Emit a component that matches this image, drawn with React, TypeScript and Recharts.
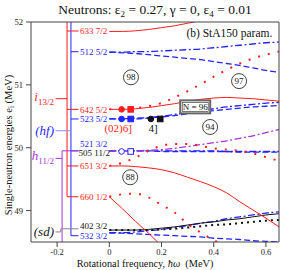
'use client';

import React from 'react';
import { ComposedChart, Line, Scatter, XAxis, YAxis } from 'recharts';

const FONT = '"Liberation Serif", "Times New Roman", serif';
const RED = '#ff1c1c';
const BLUE = '#2424ff';
const PURPLE = '#a435d8';
const BLACK = '#111111';
const AXIS = '#444444';

// rotational frequency grid (MeV)
const omega = [0, 0.05, 0.1, 0.15, 0.2, 0.25, 0.3, 0.35, 0.4, 0.45, 0.5, 0.55, 0.6, 0.65];

// single-neutron routhians e_i (MeV) on the omega grid (null = leaves the frame)
const r633a = [51.85, 51.85, 51.86, 51.88, 51.91, 51.94, 51.98, 52.02, null, null, null, null, null, null];
const r512a = [51.52, 51.52, 51.53, 51.53, 51.54, 51.55, 51.56, 51.57, 51.59, 51.61, 51.63, 51.65, 51.67, 51.68];
const r512b = [51.52, 51.51, 51.5, 51.48, 51.46, 51.44, 51.42, 51.4, 51.37, 51.34, 51.31, 51.27, 51.23, 51.2];
const r642a = [50.61, 50.61, 50.62, 50.64, 50.67, 50.7, 50.74, 50.77, 50.79, 50.8, 50.79, 50.78, 50.76, 50.74];
const r642b = [50.61, 50.62, 50.63, 50.66, 50.71, 50.8, 50.9, 51.01, 51.13, 51.24, 51.34, 51.42, 51.48, 51.53];
const r523a = [50.46, 50.46, 50.47, 50.48, 50.5, 50.53, 50.56, 50.59, 50.62, 50.65, 50.67, 50.69, 50.71, 50.72];
const r523b = [50.46, 50.46, 50.46, 50.47, 50.49, 50.51, 50.54, 50.57, 50.59, 50.61, 50.63, 50.65, 50.66, 50.67];
const r521a = [49.95, 49.95, 49.95, 49.95, 49.95, 49.95, 49.95, 49.95, 49.95, 49.94, 49.94, 49.94, 49.94, 49.94];
const r521b = [49.95, 49.95, 49.95, 49.95, 49.94, 49.94, 49.94, 49.94, 49.94, 49.94, 49.93, 49.93, 49.93, 49.93];
const r505 = [49.95, 49.95, 49.95, 49.96, 49.97, 49.99, 50.02, 50.05, 50.08, 50.11, 50.15, 50.19, 50.24, 50.29];
const r651a = [49.71, 49.71, 49.7, 49.68, 49.65, 49.6, 49.53, 49.46, 49.38, 49.28, 49.14, 49.01, 48.88, 48.74];
const r651b = [49.71, 49.76, 49.84, 49.95, 50.03, 50.06, 50.06, 50.03, 49.99, 49.97, 49.95, 49.91, 49.85, 49.79];
const r660a = [49.22, 49.03, 48.83, 48.64, 48.44, null, null, null, null, null, null, null, null, null];
const r660b = [49.22, 49.26, 49.27, 49.21, 49.09, 48.97, 48.79, 48.65, 48.53, 48.42, null, null, null, null];
const r402a = [48.69, 48.69, 48.69, 48.7, 48.72, 48.74, 48.77, 48.8, 48.82, 48.85, 48.87, 48.9, 48.93, 48.95];
const r402b = [48.69, 48.69, 48.69, 48.69, 48.7, 48.71, 48.73, 48.75, 48.77, 48.78, 48.8, 48.82, 48.84, 48.85];
const r532a = [48.65, 48.65, 48.66, 48.68, 48.7, 48.73, 48.76, 48.8, 48.83, 48.87, 48.9, 48.93, 48.96, 48.98];
const r532b = [48.64, 48.64, 48.63, 48.62, 48.61, 48.6, 48.59, 48.58, 48.56, 48.55, 48.54, 48.52, 48.51, 48.5];

// Nilsson labels at omega = 0
const levelNames = ['633 7/2', '512 5/2', '642 5/2', '523 5/2', '521 3/2', '505 11/2', '651 3/2', '660 1/2', '402 3/2', '532 3/2'];
const levelE = [51.857, 51.527, 50.61, 50.457, 49.95, 49.95, 49.71, 49.22, 48.71, 48.6];
const labelE = [51.857, 51.527, 50.61, 50.457, 50.06, 49.92, 49.71, 49.22, 48.76, 48.6];
const levelShell = ['i', 'hf', 'i', 'hf', 'hf', 'h', 'i', 'i', 'sd', 'hf'];

// shell groups of the level scheme
const shellNames = ['i13/2', '(hf)', 'h11/2', '(sd)'];
const shellKeys = ['i', 'hf', 'h', 'sd'];
const shellE = [50.78, 50.27, 49.83, 48.66];
const shellTop = [52, 52, 49.95, 48.71];
const shellBottom = [49.22, 48.6, 48.5, 48.66];

// experimental band markers
const markW = [0.047, 0.082, 0.047, 0.082, 0.159, 0.195, 0.047, 0.082];
const markE = [50.61, 50.61, 50.457, 50.457, 50.457, 50.457, 49.94, 49.94];

// circled particle numbers
const gapNums = ['98', '97', '94', '88'];
const gapW = [0.083, 0.497, 0.386, 0.08];
const gapE = [51.12, 51.06, 50.33, 49.53];

// other annotations
const noteText = ['(02)6]', '4]', '(b) StA150 param.', 'N = 96'];
const noteW = [0.034, 0.168, 0.46, 0.329];
const noteE = [50.31, 50.31, 51.825, 50.65];

// scheme layout (omega units)
const spineW: Record<string, number> = { i: -0.162, hf: -0.147, h: -0.181, sd: -0.186 };
const shellColor: Record<string, string> = { i: RED, hf: BLUE, h: PURPLE, sd: '#888888' };
const levelColor = [RED, BLUE, RED, BLUE, BLUE, BLACK, RED, RED, BLACK, BLUE];
const tickEndW = -0.118;
const labelW = -0.112;
const shellLabelW = -0.212;

const DOTS = '2 8';
const DASH = '6 3';
const DASHDOT = '7 2.5 2 2.5';

const toRows = (e: (number | null)[]) => omega.map((w, i) => ({ w, e: e[i] }));
const pts = (p: number[][]) => p.map(([w, e]) => ({ w, e }));

const curves = [
  { e: r512a, c: BLUE, d: DASHDOT, sw: 1.3 },
  { e: r512b, c: BLUE, d: DASH, sw: 1.3 },
  { e: r523a, c: BLUE, d: DASHDOT, sw: 1.3 },
  { e: r523b, c: BLUE, d: DASH, sw: 1.3 },
  { e: r521a, c: BLUE, d: DASHDOT, sw: 1.3 },
  { e: r521b, c: BLUE, d: DASH, sw: 1.3 },
  { e: r505, c: PURPLE, d: DASHDOT, sw: 1.3 },
  { e: r532a, c: BLUE, d: DASHDOT, sw: 1.3 },
  { e: r532b, c: BLUE, d: DASH, sw: 1.3 },
  { e: r402a, c: BLACK, d: undefined, sw: 1 },
  { e: r402b, c: BLACK, d: '2 4', sw: 2 },
  { e: r633a, c: RED, d: undefined, sw: 1 },
  { e: r642a, c: RED, d: undefined, sw: 1 },
  { e: r642b, c: RED, d: DOTS, sw: 2 },
  { e: r651a, c: RED, d: undefined, sw: 1 },
  { e: r651b, c: RED, d: DOTS, sw: 2 },
  { e: r660a, c: RED, d: undefined, sw: 1 },
  { e: r660b, c: RED, d: DOTS, sw: 2 },
];

// level scheme polylines
const schemeLines: { p: number[][]; c: string }[] = [];
shellKeys.forEach((k, i) => {
  const x = spineW[k];
  schemeLines.push({ p: [[x, shellTop[i]], [x, shellBottom[i]]], c: shellColor[k] });
  schemeLines.push({ p: [[shellLabelW + 0.006, shellE[i]], [x, shellE[i]]], c: k === 'hf' ? '#8c8cff' : shellColor[k] });
});
levelNames.forEach((_, i) => {
  const k = levelShell[i];
  schemeLines.push({ p: [[spineW[k], levelE[i]], [tickEndW, levelE[i]]], c: shellColor[k] });
});

const markShape = (p: any) => {
  const i = p.payload.i;
  const color = i < 2 ? RED : i < 4 ? BLUE : i < 6 ? BLACK : BLUE;
  const open = i >= 6;
  const fill = open ? '#fff' : color;
  if (i % 2 === 0) return <circle cx={p.cx} cy={p.cy} r={2.8} fill={fill} stroke={color} strokeWidth={1} />;
  return <rect x={p.cx - 2.8} y={p.cy - 2.8} width={5.6} height={5.6} fill={fill} stroke={color} strokeWidth={1} />;
};

const levelShape = (p: any) => (
  <text x={p.cx} y={p.cy} dy="0.35em" fontSize={9} fill={levelColor[p.payload.i]} fontFamily={FONT}>
    {p.payload.t}
  </text>
);

const shellShape = (p: any) => {
  const t: string = p.payload.t;
  const color = shellColor[shellKeys[p.payload.i]];
  const fill = shellKeys[p.payload.i] === 'sd' ? BLACK : color;
  const sub = t.length > 4 && !t.startsWith('(');
  return (
    <text x={p.cx} y={p.cy} dy={sub ? 2 : 4} textAnchor="end" fontSize={13} fill={fill} fontFamily={FONT} fontStyle="italic">
      {sub ? t[0] : t}
      {sub && (
        <tspan dy={4} fontSize={9} fontStyle="normal">
          {t.slice(1)}
        </tspan>
      )}
    </text>
  );
};

const gapShape = (p: any) => (
  <g>
    <circle cx={p.cx} cy={p.cy} r={7.5} fill="none" stroke={BLACK} strokeWidth={0.8} />
    <text x={p.cx} y={p.cy} dy="0.35em" textAnchor="middle" fontSize={9} fill={BLACK} fontFamily={FONT}>
      {p.payload.t}
    </text>
  </g>
);

const noteShape = (p: any) => {
  const { t, i } = p.payload;
  if (t === 'N = 96') {
    return (
      <g>
        <rect x={p.cx - 15} y={p.cy - 6.5} width={30} height={13} fill="#fff" stroke="#666" strokeWidth={2} />
        <rect x={p.cx - 13} y={p.cy - 4.5} width={26} height={9} fill="none" stroke="#222" strokeWidth={0.6} />
        <text x={p.cx} y={p.cy} dy="0.35em" textAnchor="middle" fontSize={9} fill={BLACK} fontFamily={FONT}>
          {t}
        </text>
      </g>
    );
  }
  return (
    <text x={p.cx} y={p.cy} dy="0.35em" textAnchor="middle" fontSize={i === 2 ? 11.5 : 11} fill={i === 0 ? RED : BLACK} fontFamily={FONT}>
      {t}
    </text>
  );
};

export default function App() {
  const xMain = [-0.2, 0, 0.2, 0.4, 0.6];
  const xMinor = [-0.1, 0.1, 0.3, 0.5];
  const yMain = [49, 50, 51, 52];
  const yMinor = [49.5, 50.5, 51.5];
  const xDom: [number, number] = [-0.3, 0.65];
  const yDom: [number, number] = [48.5, 52];
  const tickStyle = { fontSize: 8.5, fill: '#222', fontFamily: FONT };

  return (
    <div style={{ position: 'fixed', left: 0, top: 0, width: 287, height: 270, background: '#fff' }}>
      <ComposedChart width={287} height={270} margin={{ top: 0, right: 0, bottom: 0, left: 0 }}>
        <XAxis xAxisId={0} type="number" dataKey="w" domain={xDom} allowDataOverflow ticks={xMain} interval={0} height={28} tickSize={5} tickMargin={2} axisLine={{ stroke: AXIS }} tickLine={{ stroke: AXIS }} tick={tickStyle} />
        <XAxis xAxisId="xm" type="number" dataKey="w" domain={xDom} allowDataOverflow ticks={xMinor} interval={0} height={4} mirror tickSize={3} tick={false} axisLine={false} tickLine={{ stroke: AXIS }} />
        <XAxis xAxisId="top" orientation="top" type="number" dataKey="w" domain={xDom} allowDataOverflow ticks={xMain} interval={0} height={22} tickSize={5} tick={false} axisLine={{ stroke: AXIS }} tickLine={{ stroke: AXIS }} />
        <XAxis xAxisId="topm" orientation="top" type="number" dataKey="w" domain={xDom} allowDataOverflow ticks={xMinor} interval={0} height={4} mirror tickSize={3} tick={false} axisLine={false} tickLine={{ stroke: AXIS }} />
        <YAxis yAxisId={0} type="number" domain={yDom} allowDataOverflow ticks={yMain} interval={0} width={31} tickSize={5} tickMargin={3} axisLine={{ stroke: AXIS }} tickLine={{ stroke: AXIS }} tick={tickStyle} />
        <YAxis yAxisId="ym" type="number" domain={yDom} allowDataOverflow ticks={yMinor} interval={0} width={4} mirror tickSize={3} tick={false} axisLine={false} tickLine={{ stroke: AXIS }} />
        <YAxis yAxisId="r" orientation="right" type="number" domain={yDom} allowDataOverflow ticks={yMain} interval={0} width={8} tickSize={5} tick={false} axisLine={{ stroke: AXIS }} tickLine={{ stroke: AXIS }} />
        <YAxis yAxisId="rm" orientation="right" type="number" domain={yDom} allowDataOverflow ticks={yMinor} interval={0} width={4} mirror tickSize={3} tick={false} axisLine={false} tickLine={{ stroke: AXIS }} />

        {schemeLines.map((s, i) => (
          <Line key={`s${i}`} data={pts(s.p)} dataKey="e" stroke={s.c} strokeWidth={1} dot={false} activeDot={false} isAnimationActive={false} legendType="none" />
        ))}

        {curves.map((c, i) => (
          <Line key={`c${i}`} data={toRows(c.e)} dataKey="e" type="monotone" stroke={c.c} strokeWidth={c.sw} strokeDasharray={c.d} dot={false} activeDot={false} isAnimationActive={false} legendType="none" />
        ))}

        <Scatter data={markW.map((w, i) => ({ w, e: markE[i], i }))} dataKey="e" shape={markShape} isAnimationActive={false} legendType="none" />
        <Scatter data={levelNames.map((t, i) => ({ w: i === 5 ? labelW - 0.006 : labelW, e: labelE[i], t, i }))} dataKey="e" shape={levelShape} isAnimationActive={false} legendType="none" />
        <Scatter data={shellNames.map((t, i) => ({ w: shellLabelW, e: shellE[i], t, i }))} dataKey="e" shape={shellShape} isAnimationActive={false} legendType="none" />
        <Scatter data={gapNums.map((t, i) => ({ w: gapW[i], e: gapE[i], t, i }))} dataKey="e" shape={gapShape} isAnimationActive={false} legendType="none" />
        <Scatter data={noteText.map((t, i) => ({ w: noteW[i], e: noteE[i], t, i }))} dataKey="e" shape={noteShape} isAnimationActive={false} legendType="none" />
      </ComposedChart>

      <svg width={287} height={270} style={{ position: 'absolute', left: 0, top: 0, pointerEvents: 'none' }}>
        <text x={155} y={14} textAnchor="middle" fontSize={13.5} fontFamily={FONT} fill="#111">
          Neutrons: ε<tspan dy={3} fontSize={9}>2</tspan>
          <tspan dy={-3}> = 0.27, γ = 0, ε</tspan>
          <tspan dy={3} fontSize={9}>4</tspan>
          <tspan dy={-3}> = 0.01</tspan>
        </text>
        <text transform="translate(12,145) rotate(-90)" textAnchor="middle" fontSize={10.5} fontFamily={FONT} fill="#111">
          Single-neutron energies e<tspan dy={2} fontSize={7.5}>i</tspan>
          <tspan dy={-2}> (MeV)</tspan>
        </text>
        <text x={145} y={267} textAnchor="middle" fontSize={10.3} fontFamily={FONT} fill="#111">
          Rotational frequency, <tspan fontStyle="italic">ħω</tspan>{'\u00a0\u00a0'}(MeV)
        </text>
      </svg>
    </div>
  );
}
